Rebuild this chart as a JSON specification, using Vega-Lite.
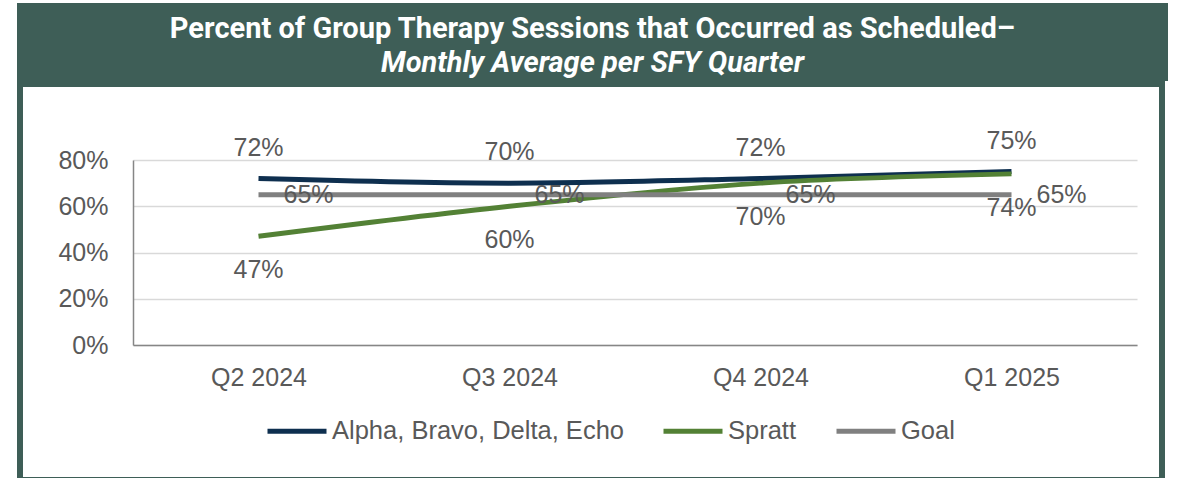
{
  "$schema": "https://vega.github.io/schema/vega-lite/v6.json",
  "padding": {"left": 17, "top": 3, "right": 0, "bottom": 0},
  "autosize": {"type": "pad"},
  "background": "white",
  "spacing": 0,
  "config": {"font": "Liberation Sans", "concat": {"spacing": 0}},
  "vconcat": [
    {
      "width": 1145,
      "height": 72,
      "view": {"fill": "#3e5e57", "stroke": "#3e5e57", "strokeWidth": 6},
      "data": {"values": [{"k": 1}]},
      "mark": {"type": "point", "opacity": 0},
      "title": {
        "text": "Percent of Group Therapy Sessions that Occurred as Scheduled–",
        "subtitle": "Monthly Average per SFY Quarter",
        "anchor": "middle",
        "orient": "top",
        "frame": "group",
        "offset": -72,
        "color": "white",
        "font": "Roboto",
        "fontSize": 29,
        "fontWeight": "bold",
        "subtitleColor": "white",
        "subtitleFont": "Roboto",
        "subtitleFontSize": 29,
        "subtitleFontStyle": "italic",
        "subtitleFontWeight": "bold",
        "subtitlePadding": 5
      }
    },
    {
      "width": 1142,
      "height": 396,
      "view": {"fill": "white", "stroke": "#3e5e57", "strokeWidth": 6},
      "data": {
        "values": [
          {"quarter": "Q2 2024", "series": "Alpha, Bravo, Delta, Echo", "value": 0.72},
          {"quarter": "Q3 2024", "series": "Alpha, Bravo, Delta, Echo", "value": 0.70},
          {"quarter": "Q4 2024", "series": "Alpha, Bravo, Delta, Echo", "value": 0.72},
          {"quarter": "Q1 2025", "series": "Alpha, Bravo, Delta, Echo", "value": 0.75},
          {"quarter": "Q2 2024", "series": "Spratt", "value": 0.47},
          {"quarter": "Q3 2024", "series": "Spratt", "value": 0.60},
          {"quarter": "Q4 2024", "series": "Spratt", "value": 0.70},
          {"quarter": "Q1 2025", "series": "Spratt", "value": 0.74},
          {"quarter": "Q2 2024", "series": "Goal", "value": 0.65},
          {"quarter": "Q3 2024", "series": "Goal", "value": 0.65},
          {"quarter": "Q4 2024", "series": "Goal", "value": 0.65},
          {"quarter": "Q1 2025", "series": "Goal", "value": 0.65}
        ]
      },
      "encoding": {
        "x": {
          "field": "quarter",
          "type": "ordinal",
          "sort": ["Q2 2024", "Q3 2024", "Q4 2024", "Q1 2025"],
          "scale": {"type": "point", "padding": 0.5, "range": [113, 1117]},
          "axis": {
            "title": null,
            "labelAngle": 0,
            "offset": -135,
            "domainColor": "#868686",
            "domainWidth": 1.5,
            "ticks": false,
            "tickSize": 0,
            "grid": false,
            "labelPadding": 20,
            "labelFontSize": 25,
            "labelColor": "#595959"
          }
        },
        "y": {
          "field": "value",
          "type": "quantitative",
          "scale": {"domain": [0, 0.8], "range": [261, 76], "nice": false},
          "axis": {
            "title": null,
            "values": [0, 0.2, 0.4, 0.6, 0.8],
            "format": ".0%",
            "offset": -113,
            "grid": true,
            "gridColor": "#d9d9d9",
            "gridWidth": 1.5,
            "domainColor": "#868686",
            "domainWidth": 1.5,
            "ticks": false,
            "tickSize": 0,
            "labelPadding": 25,
            "labelFontSize": 25,
            "labelColor": "#595959"
          }
        }
      },
      "layer": [
        {
          "mark": {"type": "line", "strokeWidth": 5, "interpolate": "monotone", "strokeCap": "butt"},
          "encoding": {
            "color": {
              "field": "series",
              "type": "nominal",
              "scale": {
                "domain": ["Alpha, Bravo, Delta, Echo", "Spratt", "Goal"],
                "range": ["#0e2f4f", "#538135", "#808080"]
              },
              "legend": {
                "orient": "none",
                "legendX": 245,
                "legendY": 393,
                "direction": "horizontal",
                "title": null,
                "symbolType": "stroke",
                "symbolSize": 3481,
                "symbolStrokeWidth": 5,
                "labelFontSize": 25.5,
                "labelColor": "#595959",
                "labelOffset": 3,
                "labelLimit": 400,
                "columnPadding": 29
              }
            }
          }
        },
        {
          "transform": [{"filter": "datum.series === 'Alpha, Bravo, Delta, Echo'"}],
          "mark": {"type": "text", "dy": -31, "fontSize": 25, "color": "#595959", "baseline": "middle"},
          "encoding": {"text": {"field": "value", "type": "quantitative", "format": ".0%"}}
        },
        {
          "transform": [{"filter": "datum.series === 'Spratt'"}],
          "mark": {"type": "text", "dy": 34, "fontSize": 25, "color": "#595959", "baseline": "middle"},
          "encoding": {"text": {"field": "value", "type": "quantitative", "format": ".0%"}}
        },
        {
          "transform": [{"filter": "datum.series === 'Goal'"}],
          "mark": {"type": "text", "dx": 25, "align": "left", "fontSize": 25, "color": "#595959", "baseline": "middle"},
          "encoding": {"text": {"field": "value", "type": "quantitative", "format": ".0%"}}
        }
      ]
    }
  ]
}
